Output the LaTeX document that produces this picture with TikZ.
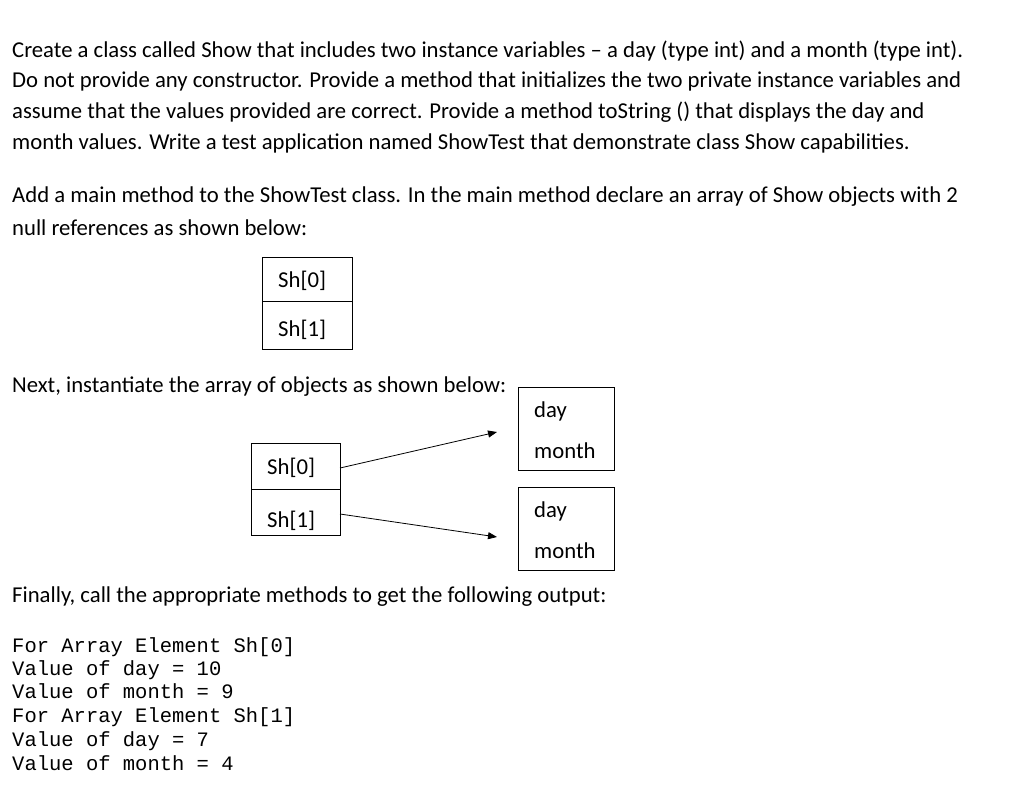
\documentclass[tikz,border=0pt]{standalone}
\usepackage{fontspec}
\setmainfont{Carlito}
\setmonofont{Liberation Mono}
\usetikzlibrary{arrows.meta}
\begin{document}
\begin{tikzpicture}[x=1pt,y=-1pt,
  txt/.style={anchor=base west,inner sep=0pt,font=\fontsize{22.7}{24}\selectfont},
  mono/.style={anchor=base west,inner sep=0pt,font=\ttfamily\fontsize{20.5}{22}\selectfont},
  cell/.style={draw,line width=0.8pt},
  arr/.style={-{Triangle[length=9pt,width=7pt]},line width=0.8pt}]
\useasboundingbox[fill=white] (0,0) rectangle (1024,792);
\node[txt] (l1) at (12,58) {Create a class called Show that includes two instance variables -- a day (type int) and a month (type int).};
\node[txt] (l2) at (12,87) {Do not provide any constructor. Provide a method that initializes the two private instance variables and};
\node[txt] (l3) at (12,118) {assume that the values provided are correct. Provide a method toString () that displays the day and};
\node[txt] (l4) at (12,149) {month values. Write a test application named ShowTest that demonstrate class Show capabilities.};
\node[txt] (l5) at (12,202) {Add a main method to the ShowTest class. In the main method declare an array of Show objects with 2};
\node[txt] (l6) at (12,235) {null references as shown below:};
\node[txt] (l7) at (12,392) {Next, instantiate the array of objects as shown below:};
\node[txt] (l8) at (12,602) {Finally, call the appropriate methods to get the following output:};
% first array
\draw[cell] (262,257) rectangle (352,349);
\draw[cell] (262,301) -- (352,301);
\node[txt] (a0) at (278,287) {Sh[0]};
\node[txt] (a1) at (278,336) {Sh[1]};
% second array
\draw[cell] (251,443) rectangle (340,535);
\draw[cell] (251,489) -- (340,489);
\node[txt] (b0) at (267,474) {Sh[0]};
\node[txt] (b1) at (267,527) {Sh[1]};
\draw[cell] (518,387) rectangle (614,470);
\node[txt] (d1) at (534,417) {day};
\node[txt] (m1) at (534,458) {month};
\draw[cell] (518,487) rectangle (614,570);
\node[txt] (d2) at (534,517) {day};
\node[txt] (m2) at (534,558) {month};
\coordinate (s0) at (340,468);
\coordinate (t0) at (497,432);
\coordinate (s1) at (340,514);
\coordinate (t1) at (497,537);
\draw[arr] (s0) -- (t0);
\draw[arr] (s1) -- (t1);
% output
\node[mono] (o1) at (12,652) {For Array Element Sh[0]};
\node[mono] (o2) at (12,675) {Value of day = 10};
\node[mono] (o3) at (12,698) {Value of month = 9};
\node[mono] (o4) at (12,722) {For Array Element Sh[1]};
\node[mono] (o5) at (12,746) {Value of day = 7};
\node[mono] (o6) at (12,770) {Value of month = 4};
\end{tikzpicture}
\end{document}
